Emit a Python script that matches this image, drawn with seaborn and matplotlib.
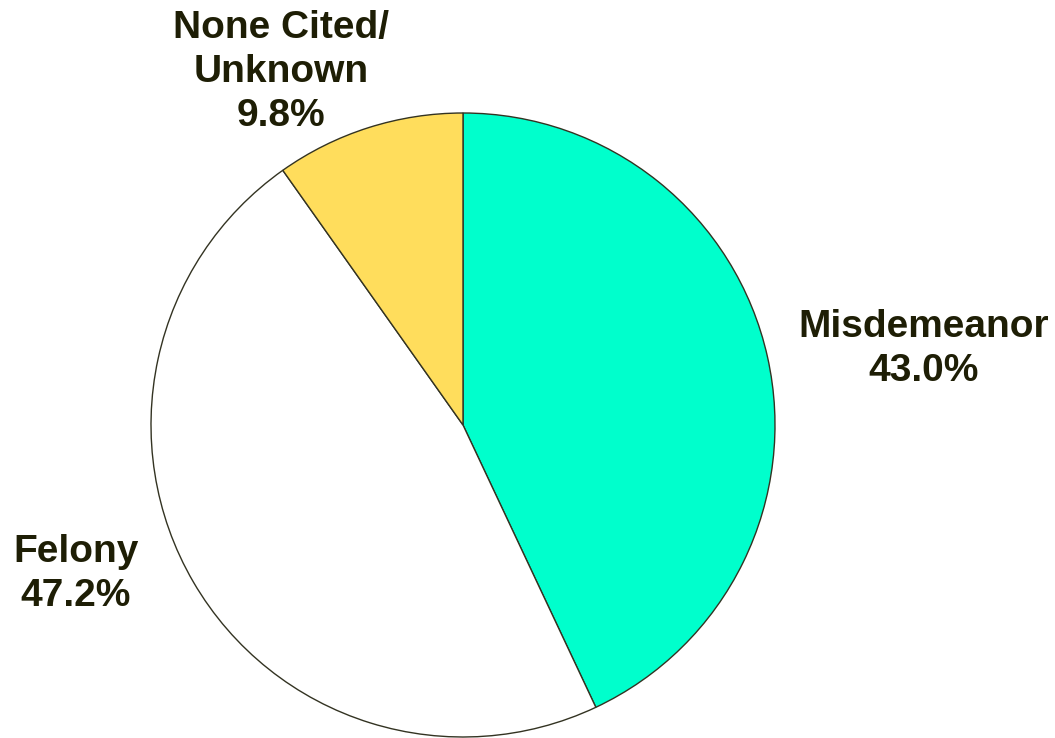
import matplotlib
matplotlib.use("Agg")
import matplotlib.pyplot as plt
import seaborn as sns

sns.set_theme(style="white")
plt.rcParams['font.family'] = ['Liberation Sans', 'DejaVu Sans']

categories = ["Misdemeanor", "Felony", "None Cited/\nUnknown"]
values = [43.0, 47.2, 9.8]
colors = ["#00FFCC", "#FFFFFF", "#FFDD5C"]

W, H = 1055, 738
fig = plt.figure(figsize=(W / 100, H / 100), dpi=100)
ax = fig.add_axes([0, 0, 1, 1])
ax.set_xlim(0, W)
ax.set_ylim(0, H)
ax.set_aspect('equal')
ax.axis('off')

cx, cy, r = 463, H - 425, 312
ax.pie(values, colors=colors, startangle=90, counterclock=False,
       center=(cx, cy), radius=r, frame=True,
       wedgeprops=dict(edgecolor="#333322", linewidth=1.0))
ax.set_xlim(0, W)
ax.set_ylim(0, H)
ax.axis('off')

label_pos = [(924, 349), (76, 574), (281, 72)]
for cat, val, (x, y) in zip(categories, values, label_pos):
    ax.text(x, H - y, f"{cat}\n{val:.1f}%", ha='center', va='center',
            fontsize=28, fontweight='bold', color='#1E1E05', linespacing=1.28)

fig.savefig("out.png", dpi=100, facecolor='white')
